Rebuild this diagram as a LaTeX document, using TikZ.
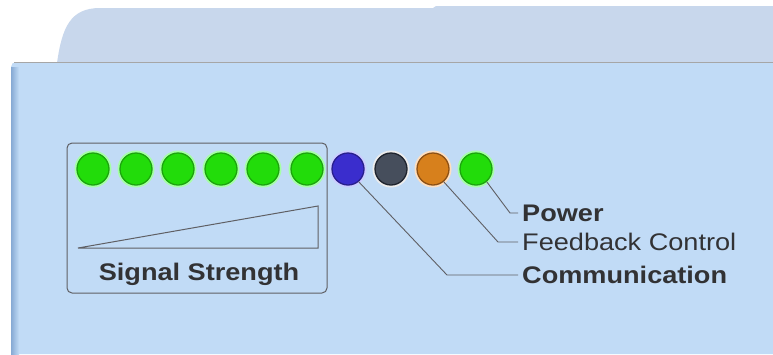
\documentclass[tikz,border=0pt]{standalone}
\usepackage{fontspec}
\setmainfont{Liberation Sans}
\newfontfamily\widesans[FakeStretch=1.13]{Liberation Sans}
\usetikzlibrary{calc}
\definecolor{backpanel}{RGB}{200,215,236}
\definecolor{frontpanel}{RGB}{193,219,246}
\definecolor{edgeblue}{RGB}{135,170,212}
\definecolor{txtgray}{RGB}{50,50,52}
\definecolor{linegray}{RGB}{95,95,100}
\definecolor{ledgreen}{RGB}{34,220,10}
\definecolor{ledgreendk}{RGB}{25,140,15}
\definecolor{ledblue}{RGB}{58,45,205}
\definecolor{ledbluedk}{RGB}{40,30,140}
\definecolor{ledgray}{RGB}{70,78,92}
\definecolor{ledgraydk}{RGB}{30,35,45}
\definecolor{ledorange}{RGB}{215,128,28}
\definecolor{ledorangedk}{RGB}{140,80,20}
\tikzset{
  led/.style={circle, minimum size=32pt, inner sep=0pt, line width=1.3pt},
  halo/.style={circle, minimum size=37pt, inner sep=0pt},
  leader/.style={draw=linegray, line width=0.9pt},
  lbl/.style={anchor=west, inner sep=4pt, text=txtgray, font=\widesans\fontsize{24}{28}\selectfont},
}
\begin{document}
\begin{tikzpicture}[x=1pt,y=-1pt]
\useasboundingbox (0,0) rectangle (773,354);
\fill[white] (0,0) rectangle (773,354);
% back panel
\fill[backpanel] (57,63) .. controls (62,28) and (70,8) .. (100,8) -- (433,8) -- (436,6) -- (773,6) -- (773,63) -- cycle;
% front panel
\fill[frontpanel] (11,354) -- (11,67) arc[start angle=180, end angle=270, radius=5] -- (773,62) -- (773,354) -- cycle;
\shade[left color=edgeblue, right color=frontpanel] (11,67) rectangle (19,354);
\draw[color=gray!70, line width=0.8pt] (14,62.5) -- (773,62.5);
% signal strength box
\draw[linegray, line width=1pt, rounded corners=5pt] (67,143) rectangle (327,293);
\draw[linegray, line width=1pt] (78,248) -- (318,206) -- (318,248) -- cycle;
\node[text=txtgray, font=\widesans\bfseries\fontsize{24}{28}\selectfont] (sig) at (199,274) {Signal Strength};
% LEDs
\foreach \x/\n in {93/g1,136/g2,178/g3,221/g4,263/g5,307/g6,476/pw}{
  \node[halo, fill=green!35!white] at (\x,169) {};
  \node[led, fill=ledgreen, draw=ledgreendk!70!ledgreen] (\n) at (\x,169) {};
}
\node[halo, fill=blue!20!white] at (348,169) {};
\node[led, fill=ledblue, draw=ledbluedk] (com) at (348,169) {};
\node[halo, fill=white!85!gray] at (391,169) {};
\node[led, fill=ledgray, draw=ledgraydk] (dk) at (391,169) {};
\node[halo, fill=orange!25!white] at (433,169) {};
\node[led, fill=ledorange, draw=ledorangedk] (fb) at (433,169) {};
% labels
\node[lbl, font=\widesans\bfseries\fontsize{24}{28}\selectfont] (lpw) at (518,213) {Power};
\node[lbl] (lfb) at (518,242) {Feedback Control};
\node[lbl, font=\widesans\bfseries\fontsize{24}{28}\selectfont] (lcom) at (518,275) {Communication};
% leaders
\coordinate (bpw) at (510,213);
\coordinate (bfb) at (498,242);
\coordinate (bcom) at (447,275);
\draw[leader] (pw.-50) -- (bpw) -- (lpw.west);
\draw[leader] (fb.-50) -- (bfb) -- (lfb.west);
\draw[leader] (com.-50) -- (bcom) -- (lcom.west);
\end{tikzpicture}
\end{document}
